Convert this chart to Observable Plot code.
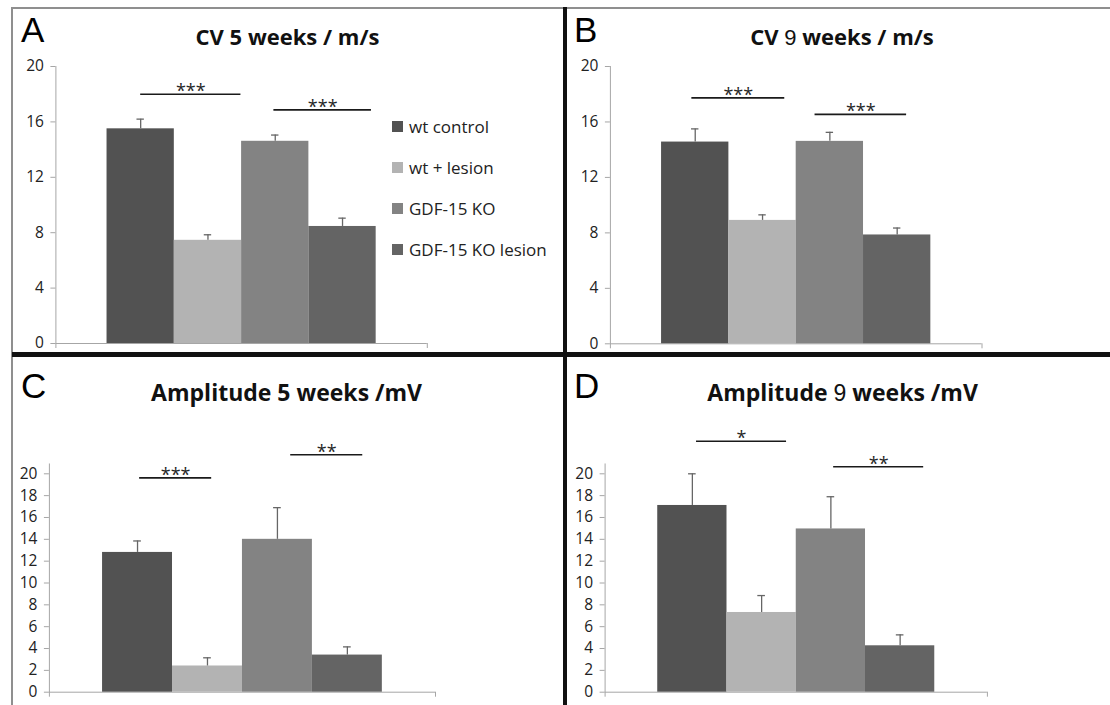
<!DOCTYPE html>
<html><head><meta charset="utf-8">
<script src="https://cdn.jsdelivr.net/npm/d3@7"></script>
<script src="https://cdn.jsdelivr.net/npm/@observablehq/plot@0.6"></script>
<style>
html,body{margin:0;padding:0;background:#fff;}
#fig{position:relative;width:1110px;height:705px;overflow:hidden;font-family:"Open Sans",sans-serif;background:#fff;}
#fig svg{position:absolute;}
.rule{position:absolute;}
.leg{position:absolute;display:flex;align-items:center;height:22px;font-size:17px;color:#222;white-space:nowrap;}
.leg span.sw{display:inline-block;width:11px;height:11px;margin-right:6px;}
</style></head><body><div id="fig"></div>
<script>
// ---- data ----
const groups = ["wt control", "wt + lesion", "GDF-15 KO", "GDF-15 KO lesion"];
const groupColors = ["#525252", "#b3b3b3", "#838383", "#646464"];

const titles = ["CV 5 weeks / m/s", "CV 9 weeks / m/s", "Amplitude 5 weeks /mV", "Amplitude 9 weeks /mV"];
const letters = ["A", "B", "C", "D"];

const cv5Values = [15.5, 7.45, 14.6, 8.45];
const cv5Errors = [0.7, 0.4, 0.45, 0.6];
const cv9Values = [14.55, 8.9, 14.6, 7.85];
const cv9Errors = [0.95, 0.4, 0.65, 0.5];
const amp5Values = [12.8, 2.4, 14.0, 3.4];
const amp5Errors = [1.05, 0.75, 2.9, 0.75];
const amp9Values = [17.1, 7.3, 14.95, 4.25];
const amp9Errors = [2.9, 1.55, 2.95, 1.0];

// significance brackets (x in bar-index units, y in axis units)
const cv5Sig = [{x1: 0, x2: 1.49, y: 18.0, label: "***"}, {x1: 1.98, x2: 3.43, y: 16.87, label: "***"}];
const cv9Sig = [{x1: -0.05, x2: 1.33, y: 17.74, label: "***"}, {x1: 1.78, x2: 3.14, y: 16.55, label: "***"}];
const amp5Sig = [{x1: 0.03, x2: 1.06, y: 19.63, label: "***"}, {x1: 2.19, x2: 3.22, y: 21.74, label: "**"}];
const amp9Sig = [{x1: 0.06, x2: 1.36, y: 22.98, label: "*"}, {x1: 2.04, x2: 3.34, y: 20.64, label: "**"}];

const cvTicks = [0, 4, 8, 12, 16, 20];
const ampTicks = [0, 2, 4, 6, 8, 10, 12, 14, 16, 18, 20];

// ---- layout ----
const fig = document.getElementById("fig");
const xDomain = [-1.26, 4.26];
const axisColor = "#a6a6a6";

function rule(style) {
  const d = document.createElement("div");
  d.className = "rule";
  Object.assign(d.style, style);
  fig.appendChild(d);
}
rule({left: "12px", top: "7px", width: "1098px", height: "2px", background: "#8f8f8f"});
rule({left: "11px", top: "7px", width: "2px", height: "698px", background: "#8f8f8f"});
rule({left: "12px", top: "352px", width: "1098px", height: "5px", background: "#111"});
rule({left: "563px", top: "7px", width: "4px", height: "698px", background: "#111"});

const panels = [
  {values: cv5Values, errors: cv5Errors, sig: cv5Sig, ticks: cvTicks, axisTop: 20,
   box: {left: 13, top: 9, width: 550, height: 343}, m: {l: 42.4, r: 136.2, t: 57, b: 9}},
  {values: cv9Values, errors: cv9Errors, sig: cv9Sig, ticks: cvTicks, axisTop: 20,
   box: {left: 567, top: 9, width: 543, height: 343}, m: {l: 42.9, r: 128.5, t: 57, b: 8.7}},
  {values: amp5Values, errors: amp5Errors, sig: amp5Sig, ticks: ampTicks, axisTop: 20.9,
   box: {left: 13, top: 359, width: 550, height: 346}, m: {l: 35.9, r: 128, t: 114.3, b: 13.3}},
  {values: amp9Values, errors: amp9Errors, sig: amp9Sig, ticks: ampTicks, axisTop: 20.9,
   box: {left: 567, top: 359, width: 543, height: 346}, m: {l: 37.6, r: 123.1, t: 114.3, b: 13.3}}
];

for (const p of panels) {
  const data = p.values.map((v, i) => ({i, group: groups[i], value: v, err: p.errors[i]}));
  const svg = Plot.plot({
    width: p.box.width,
    height: p.box.height,
    marginLeft: p.m.l, marginRight: p.m.r, marginTop: p.m.t, marginBottom: p.m.b,
    x: {domain: xDomain, axis: null},
    y: {domain: [0, 20], axis: null},
    color: {domain: groups, range: groupColors},
    style: {fontFamily: "'Open Sans', sans-serif", fontSize: "15.5px", color: "#222", background: "transparent", overflow: "visible"},
    marks: [
      Plot.ruleY([0], {stroke: axisColor}),
      Plot.ruleX([xDomain[1]], {y1: 0, y2: 0, insetBottom: -5, stroke: axisColor}),
      Plot.rect(data, {x1: d => d.i - 0.5, x2: d => d.i + 0.5, y1: 0, y2: "value", fill: "group"}),
      Plot.ruleX(data, {x: "i", y1: "value", y2: d => d.value + d.err, stroke: "#666", strokeWidth: 1.3}),
      Plot.ruleY(data, {y: d => d.value + d.err, x1: d => d.i - 0.055, x2: d => d.i + 0.055, stroke: "#666", strokeWidth: 1.3}),
      Plot.ruleX([xDomain[0]], {y1: p.axisTop, y2: 0, insetBottom: -5, stroke: axisColor}),
      Plot.axisY({ticks: p.ticks, tickSize: 5, tickPadding: 7, stroke: axisColor, fill: "#222", label: null, fontSize: 15.5}),
      Plot.ruleY(p.sig, {y: "y", x1: "x1", x2: "x2", stroke: "#1a1a1a", strokeWidth: 1.6}),
      Plot.text(p.sig, {x: d => (d.x1 + d.x2) / 2, y: "y", text: "label", fontSize: 18, dy: -3, fill: "#262626"})
    ]
  });
  svg.style.left = p.box.left + "px";
  svg.style.top = p.box.top + "px";
  fig.appendChild(svg);
}

// ---- titles and panel letters ----
const NS = "http://www.w3.org/2000/svg";
const over = document.createElementNS(NS, "svg");
over.setAttribute("width", 1110);
over.setAttribute("height", 705);
over.style.left = "0px"; over.style.top = "0px"; over.style.pointerEvents = "none";
fig.appendChild(over);
const titlePos = [{x: 287.5, y: 45, fs: 22}, {x: 842, y: 45, fs: 22}, {x: 286.6, y: 400.5, fs: 23}, {x: 842.6, y: 400.5, fs: 23}];
const letterPos = [{x: 21, y: 42}, {x: 574, y: 42}, {x: 21, y: 398}, {x: 574, y: 398}];
titles.forEach((t, k) => {
  const el = document.createElementNS(NS, "text");
  el.setAttribute("x", titlePos[k].x);
  el.setAttribute("y", titlePos[k].y);
  el.setAttribute("text-anchor", "middle");
  el.setAttribute("font-family", "'Open Sans', sans-serif");
  el.setAttribute("font-weight", "bold");
  el.setAttribute("font-size", titlePos[k].fs);
  el.setAttribute("fill", "#111");
  t.split(/(9)/).forEach(part => {
    if (!part) return;
    const ts = document.createElementNS(NS, "tspan");
    ts.textContent = part;
    if (part === "9") {
      ts.setAttribute("font-family", "'Liberation Sans', Arial, sans-serif");
      ts.setAttribute("font-weight", "normal");
    }
    el.appendChild(ts);
  });
  over.appendChild(el);
});
letters.forEach((L, k) => {
  const el = document.createElementNS(NS, "text");
  el.setAttribute("x", letterPos[k].x);
  el.setAttribute("y", letterPos[k].y);
  el.setAttribute("font-family", "'Liberation Sans', Arial, sans-serif");
  el.setAttribute("font-size", 35);
  el.setAttribute("fill", "#000");
  el.textContent = L;
  over.appendChild(el);
});

// ---- legend (panel A) ----
groups.forEach((g, k) => {
  const row = document.createElement("div");
  row.className = "leg";
  row.style.left = "392px";
  row.style.top = (126 + k * 41.3 - 11) + "px";
  const sw = document.createElement("span");
  sw.className = "sw";
  sw.style.background = groupColors[k];
  row.appendChild(sw);
  row.appendChild(document.createTextNode(g));
  fig.appendChild(row);
});
</script>
</body></html>
